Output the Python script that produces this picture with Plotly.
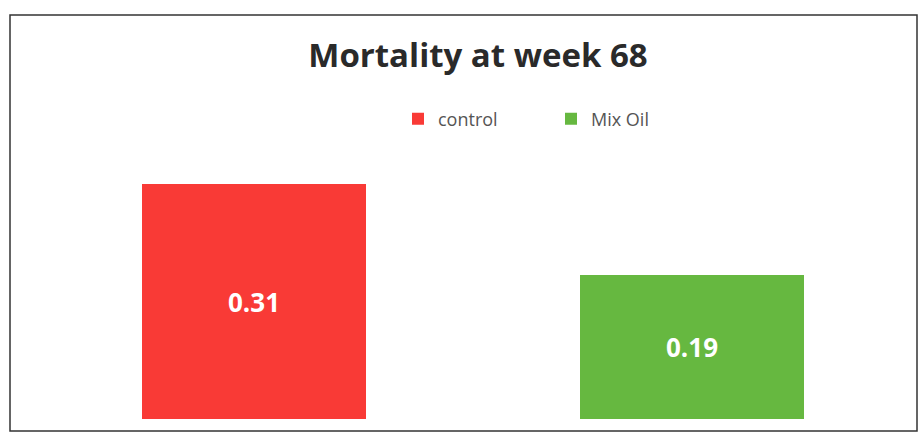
import plotly.graph_objects as go

series_names = ["control", "Mix Oil"]
values = [0.31, 0.19]
positions = [0, 1]
colors = ["#F93A36", "#66B840"]

W, H = 920, 442
ml, mr, mt, mb = 30, 20, 150, 23
pw, ph = W - ml - mr, H - mt - mb

fig = go.Figure()
for name, v, p, c in zip(series_names, values, positions, colors):
    fig.add_trace(go.Bar(
        x=[p], y=[v], name=name, width=0.513,
        marker=dict(color=c, line=dict(width=0)),
        text=[f"{v:.2f}"], textposition="inside", insidetextanchor="middle",
        textfont=dict(family="Open Sans, sans-serif", size=26, color="white", weight="bold"),
    ))

def px_x(px):
    return (px - ml) / pw

def px_y(py):
    return (H - mb - py) / ph

fig.add_shape(type="rect", xref="paper", yref="paper",
              x0=px_x(10), x1=px_x(917), y0=px_y(431), y1=px_y(15),
              line=dict(color="#333333", width=1.5), fillcolor="rgba(0,0,0,0)")

fig.update_layout(
    width=W, height=H,
    margin=dict(l=ml, r=mr, t=mt, b=mb),
    paper_bgcolor="white", plot_bgcolor="white",
    title=dict(text="<b>Mortality at week 68</b>", x=478 / W, xanchor="center",
               y=1 - 55 / H, yanchor="middle",
               font=dict(family="Open Sans, sans-serif", size=33, color="#2a2a2a")),
    xaxis=dict(range=[(ml - 254) / 438, (W - mr - 254) / 438], visible=False),
    yaxis=dict(range=[0, ph / 758], visible=False),
    showlegend=True,
    legend=dict(orientation="h", x=px_x(398), xanchor="left", y=px_y(119), yanchor="middle",
                font=dict(family="Open Sans, sans-serif", size=18, color="#555555"),
                entrywidth=108, itemclick=False, bgcolor="rgba(0,0,0,0)"),
    bargap=0,
)

fig.write_html("out.html", config={"displayModeBar": False},
               post_script="document.body.style.margin='0';document.body.style.overflow='hidden';")
